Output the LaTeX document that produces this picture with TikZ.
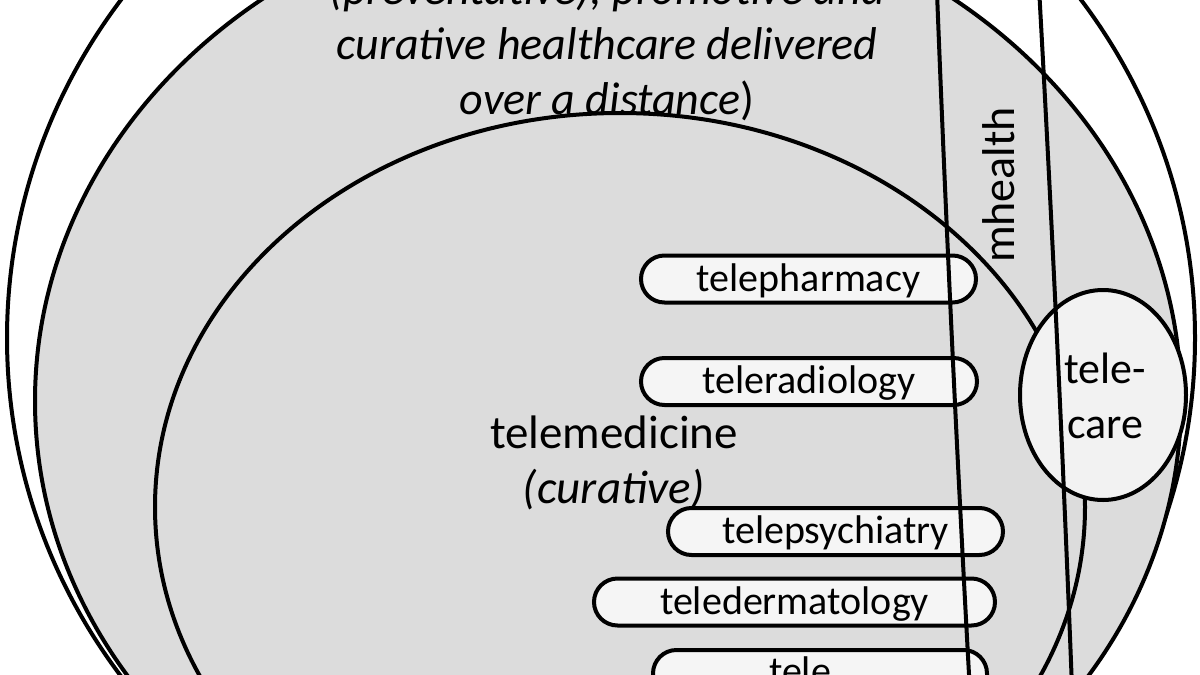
\documentclass[tikz,border=0pt]{standalone}
\usepackage{fontspec}
\setmainfont{Carlito}
\definecolor{fillgray}{HTML}{DCDCDC}
\definecolor{carefill}{HTML}{F2F2F2}
\definecolor{pillfill}{HTML}{F5F5F5}
\begin{document}
\begin{tikzpicture}[x=0.5pt,y=-0.5pt,line width=2pt,
  lbl/.style={font=\fontsize{20pt}{27.5pt}\selectfont,inner sep=0pt},
  biglbl/.style={inner sep=0pt,align=center},
  pill/.style={draw,fill=pillfill,rounded corners=11.75pt,minimum height=23.5pt,
    inner sep=0pt,text height=15pt,text depth=3pt,font=\fontsize{20pt}{27.5pt}\selectfont},
  region/.style={draw,line width=2pt}]
\useasboundingbox (0,0) rectangle (1200,675);
\clip (0,0) rectangle (1200,675);
\fill[white] (0,0) rectangle (1200,675);
% ehealth (outer)
\draw[region,fill=white] (601,338) ellipse [x radius=594, y radius=574];
% telehealth
\draw[region,fill=fillgray] (608,401) ellipse [x radius=573, y radius=504];
% telemedicine
\draw[region,fill=fillgray] (620,507) ellipse [x radius=465, y radius=394];
% pills
\node (pharm) [pill,minimum width=167.5pt] at (808.5,279) {telepharmacy};
\node (radio) [pill,minimum width=168pt] at (809,381.5) {teleradiology};
\node (psych) [pill,minimum width=167.5pt] at (835.5,531.5) {telepsychiatry};
\node (derm) [pill,minimum width=200.5pt] at (794.5,602) {teledermatology};
\node (telex) [pill,minimum width=167pt,minimum height=47pt] at (820,697) {};
\node (telextxt) [lbl,anchor=base] at (800,684) {tele};
% telecare
\draw[region,fill=carefill] (1103,395) ellipse [x radius=83, y radius=105];
% mhealth
\begin{scope}[shift={(1004.5,340)},rotate=2.7]
\draw[region] (0,0) ellipse [x radius=52.5, y radius=1500];
\end{scope}
% labels
\node (th) [biglbl,font=\fontsize{23pt}{27.5pt}\selectfont] at (607,45.5)
  {\textit{(preventative), promotive and}\\\textit{curative healthcare delivered}\\\textit{over a distance})};
\node (tm) [biglbl,font=\fontsize{23.5pt}{27.5pt}\selectfont] at (614,462.5) {telemedicine\\\textit{(curative)}};
\node (care) [biglbl,font=\fontsize{22pt}{27.5pt}\selectfont] at (1105,395.5) {tele-\\care};
\node (mh) [biglbl,rotate=90,font=\fontsize{23pt}{27.5pt}\selectfont] at (999,185) {mhealth};
\end{tikzpicture}
\end{document}
